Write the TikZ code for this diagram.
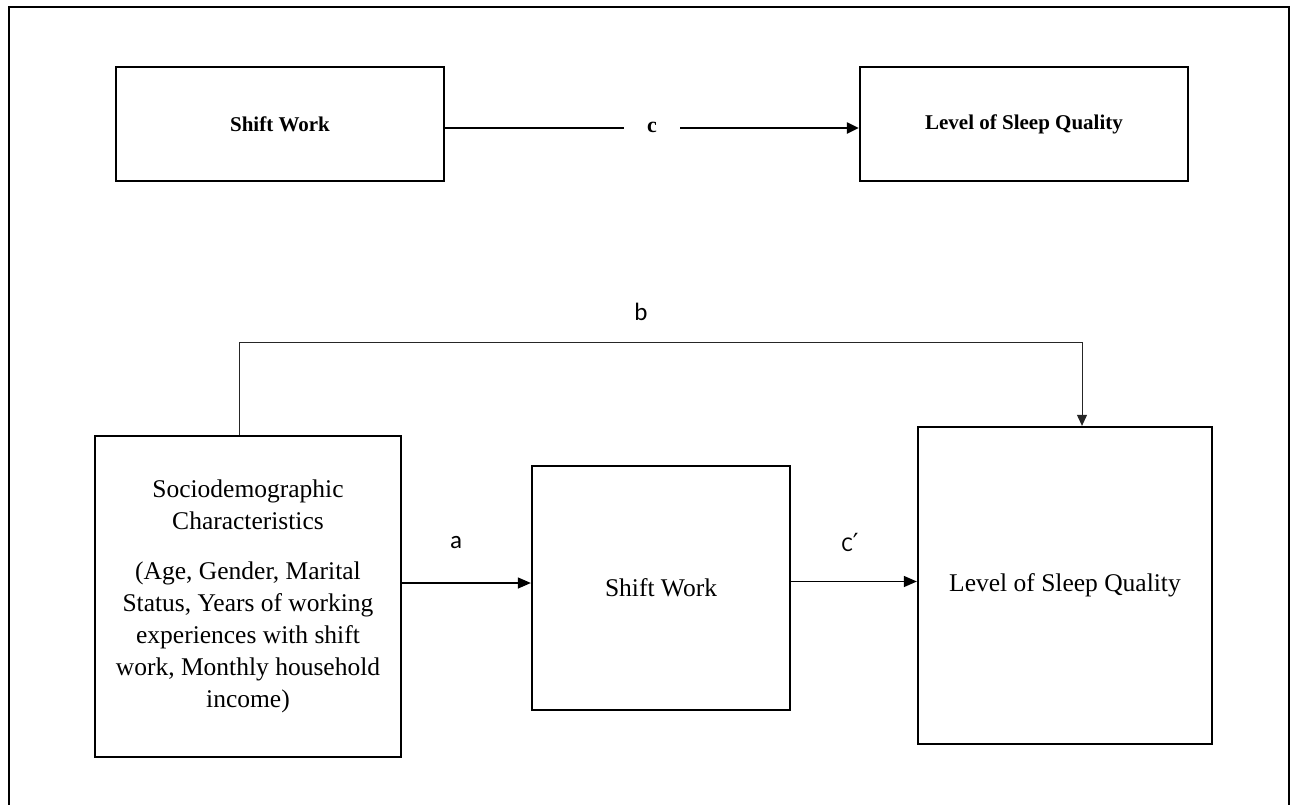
\documentclass[tikz,border=0pt]{standalone}
\usepackage{fontspec}
\setmainfont{Liberation Serif}
\newfontfamily\labfont{Carlito}
\newfontfamily\primefont{DejaVu Sans}
\usetikzlibrary{arrows.meta}
\tikzset{
  boxstyle/.style={draw=black, line width=2.3pt, rectangle, inner sep=0pt, align=center},
  topfont/.style={font=\fontsize{21pt}{25pt}\selectfont\bfseries},
  botfont/.style={font=\fontsize{25.5pt}{32pt}\selectfont},
  lab/.style={font=\labfont\fontsize{25pt}{28pt}\selectfont, inner sep=0pt},
  thickarrow/.style={line width=2.2pt, -{Triangle[length=12pt,width=11pt]}},
  thinarrow/.style={line width=1.3pt, -{Triangle[length=13pt,width=11pt]}},
  barrow/.style={line width=1pt, draw=black!85, -{Triangle[length=11pt,width=10pt]}}
}
\begin{document}
\begin{tikzpicture}[x=1pt,y=-1pt]
\useasboundingbox (0,0) rectangle (1293,804);
\draw[line width=2.3pt] (9,7) rectangle (1289,830);

% top row
\node[boxstyle, topfont, minimum width=328pt, minimum height=114pt] (sw1) at (280,124) {Shift Work};
\node[boxstyle, topfont, minimum width=328pt, minimum height=114pt] (lsq1) at (1024,124) {Level of Sleep Quality};
\node[font=\fontsize{22pt}{25pt}\selectfont\bfseries, inner sep=0pt, minimum width=56pt] (c) at (652,127) {c};
\draw[line width=2.2pt] ([yshift=-4pt]sw1.east) -- (c.west |- 0,128);
\draw[thickarrow] (c.east |- 0,128) -- ([yshift=-4pt]lsq1.west);

% bottom row
\node[boxstyle, botfont, minimum width=306pt, minimum height=321pt] (socio) at (248,596.5)
  {Sociodemographic\\Characteristics\\[18pt](Age, Gender, Marital\\Status, Years of working\\experiences with shift\\work, Monthly household\\income)};
\node[boxstyle, botfont, minimum width=258pt, minimum height=244pt] (mid) at (661,588) {Shift Work};
\node[boxstyle, botfont, minimum width=294pt, minimum height=317pt] (lsq2) at (1065,585.5) {Level of Sleep Quality};

\coordinate (ya) at (0,583);
\coordinate (yc) at (0,581.5);
\draw[thinarrow] (socio.east |- ya) -- (mid.west |- ya);
\draw[thinarrow] (mid.east |- yc) -- (lsq2.west |- yc);
\node[lab] (la) at (456,543) {a};
\node[lab, font=\labfont\fontsize{21pt}{25pt}\selectfont] (lc) at (850,542) {C{\primefont\fontsize{25pt}{28pt}\selectfont ′}};

\coordinate (b1) at (239,342);
\coordinate (b2) at (1082,342);
\draw[barrow] (socio.north -| b1) -- (b1) -- (b2) -- (lsq2.north -| b2);
\node[lab] (lb) at (641,312) {b};
\end{tikzpicture}
\end{document}
